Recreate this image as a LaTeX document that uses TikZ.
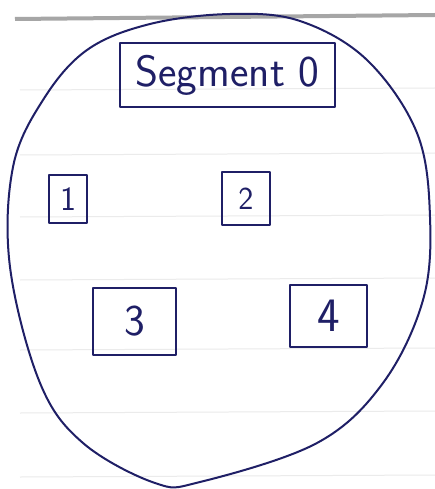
\documentclass[tikz,border=0pt]{standalone}
\begin{document}
\begin{tikzpicture}[x=1pt,y=-1pt,
  ink/.style={draw=inkc, line width=1.8pt, line join=round},
  boxnode/.style={ink, rectangle, inner sep=0pt, text=inkc, font=\sffamily},
  rule/.style={draw=black!8, line width=1pt}]
\definecolor{inkc}{HTML}{1F1F66}
\useasboundingbox (0,0) rectangle (435,489);
\fill[white] (0,0) rectangle (435,489);
% paper edge and ruled lines
\draw[draw=black!35, line width=4pt] (15,19) -- (435,15);
\foreach \yy in {90,155,217,280,350,413,477}
  \draw[rule] (20,\yy) -- (435,\yy-2);
% outline
\draw[ink, line width=2pt] plot[smooth cycle, tension=0.6] coordinates {
  (87,50) (150,24) (230,14) (300,21) (367,60) (417,133) (430,217)
  (423,300) (383,383) (317,443) (200,482) (155,483) (83,443) (40,383)
  (10,267) (13,167) (43,100)};
% boxes
\node[boxnode, minimum width=215pt, minimum height=64pt, font=\sffamily\fontsize{44}{46}\selectfont] (seg) at (227.5,75) {Segment 0};
\node[boxnode, minimum width=38pt, minimum height=48pt, font=\sffamily\fontsize{34}{36}\selectfont] (n1) at (68,199) {1};
\node[boxnode, minimum width=48pt, minimum height=53pt, font=\sffamily\fontsize{32}{34}\selectfont] (n2) at (246,198.5) {2};
\node[boxnode, minimum width=83pt, minimum height=67pt, font=\sffamily\fontsize{44}{46}\selectfont] (n3) at (134.5,321.5) {3};
\node[boxnode, minimum width=77pt, minimum height=62pt, font=\sffamily\fontsize{48}{50}\selectfont] (n4) at (328.5,316) {4};
\end{tikzpicture}
\end{document}
